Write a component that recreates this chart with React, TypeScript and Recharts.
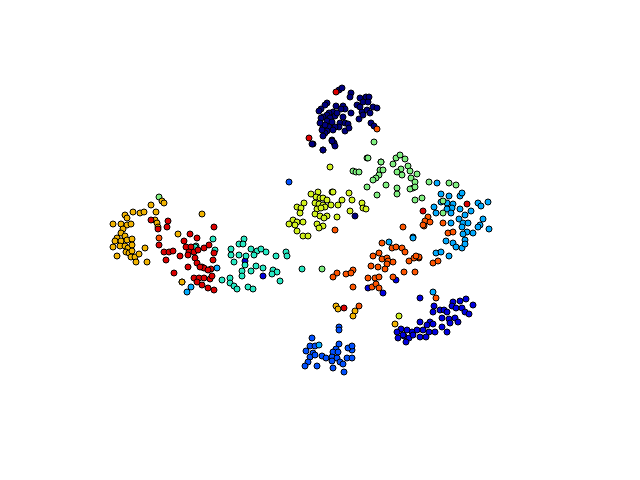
import { ScatterChart, Scatter, XAxis, YAxis } from 'recharts'

// embedding coordinates, one list per class
const navy: [number, number][] = [
  [339, 90], [342, 88], [351, 93], [350, 97], [360, 98], [366, 97], [369, 97], [363, 102], [368, 102],
  [327, 103], [325, 105], [321, 109], [319, 111], [336, 106], [343, 106], [345, 109], [341, 109],
  [357, 105], [360, 107], [362, 112], [367, 110], [373, 107], [377, 108], [333, 112], [329, 113],
  [327, 115], [323, 117], [321, 118], [335, 116], [337, 113], [330, 118], [327, 121], [332, 122],
  [343, 117], [351, 113], [359, 119], [363, 115], [370, 113], [340, 123], [345, 123], [348, 124],
  [339, 127], [335, 127], [329, 127], [323, 128], [327, 131], [333, 130], [325, 133], [322, 130],
  [345, 131], [349, 128], [371, 123], [374, 126], [332, 140], [334, 143], [313, 144], [323, 150],
  [325, 125], [320, 123], [312, 144], [323, 150], [332, 141], [335, 146], [323, 136], [355, 216],
]
const darkBlue: [number, number][] = [
  [420, 298], [434, 306], [453, 302], [460, 301], [466, 299], [473, 305], [452, 306], [456, 308],
  [462, 308], [465, 312], [469, 314], [440, 310], [444, 310], [447, 312], [433, 312], [442, 318],
  [449, 319], [455, 318], [458, 322], [450, 323], [430, 322], [433, 324], [427, 325], [420, 322],
  [442, 327], [447, 332], [435, 332], [429, 332], [423, 330], [417, 330], [412, 332], [407, 330],
  [401, 329], [397, 332], [398, 338], [404, 336], [409, 338], [413, 335], [420, 337], [426, 337],
  [406, 342], [403, 335], [396, 280], [383, 293], [368, 288], [245, 261], [263, 276],
]
const midBlue: [number, number][] = [
  [339, 327], [339, 330], [312, 338], [310, 346], [315, 346], [306, 351], [313, 353], [310, 357],
  [315, 355], [322, 356], [326, 358], [339, 344], [336, 349], [333, 352], [338, 352], [332, 357],
  [337, 358], [332, 361], [340, 362], [347, 358], [352, 358], [352, 350], [348, 348], [352, 346],
  [308, 362], [305, 366], [317, 366], [333, 368], [343, 364], [344, 372], [289, 182],
]
const lightBlue: [number, number][] = [
  [437, 183], [441, 194], [449, 196], [460, 196], [462, 193], [434, 207], [436, 213], [441, 202],
  [447, 203], [453, 204], [452, 208], [447, 209], [451, 213], [460, 209], [471, 211], [478, 203],
  [481, 206], [488, 202], [465, 215], [459, 219], [463, 223], [468, 223], [451, 223], [483, 219],
  [480, 225], [478, 227], [489, 229], [462, 227], [467, 232], [473, 233], [463, 234], [413, 237],
  [446, 241], [453, 243], [456, 247], [462, 248], [465, 240], [465, 244], [436, 253], [441, 252],
  [449, 256], [389, 242], [413, 238], [433, 292], [217, 268], [191, 287], [187, 292], [319, 345],
]
const teal: [number, number][] = [
  [213, 239], [196, 246], [215, 250], [231, 249], [231, 255], [239, 244], [244, 239], [243, 244],
  [251, 249], [257, 251], [261, 249], [266, 252], [239, 255], [246, 256], [254, 255], [234, 262],
  [245, 265], [256, 266], [263, 268], [276, 256], [286, 252], [287, 256], [242, 271], [242, 276],
  [251, 271], [273, 270], [277, 272], [272, 274], [222, 280], [230, 278], [230, 283], [234, 286],
  [237, 289], [248, 287], [253, 289], [280, 281], [195, 247], [302, 269],
]
const lightGreen: [number, number][] = [
  [374, 142], [367, 158], [381, 162], [393, 164], [396, 158], [400, 155], [405, 159], [408, 166],
  [401, 169], [410, 171], [397, 172], [402, 175], [417, 174], [411, 178], [415, 182], [413, 188],
  [410, 189], [415, 187], [353, 171], [356, 172], [359, 172], [380, 170], [383, 170], [379, 175],
  [376, 178], [373, 180], [367, 187], [386, 185], [397, 188], [397, 194], [377, 195], [415, 200],
  [422, 198], [429, 182], [449, 183], [456, 185], [443, 201], [443, 213], [368, 158], [381, 162],
  [159, 197], [322, 269],
]
const lime: [number, number][] = [
  [330, 167], [332, 192], [333, 192], [311, 194], [318, 192], [316, 197], [320, 198], [323, 198],
  [327, 200], [342, 200], [349, 193], [352, 200], [304, 203], [315, 203], [319, 204], [323, 205],
  [325, 207], [331, 205], [338, 205], [362, 203], [297, 207], [301, 208], [317, 209], [321, 208],
  [363, 208], [366, 209], [300, 213], [315, 214], [320, 216], [327, 216], [324, 218], [337, 217],
  [350, 211], [293, 220], [289, 224], [297, 222], [303, 222], [295, 225], [317, 224], [323, 226],
  [319, 228], [297, 231], [303, 236], [308, 236], [399, 316],
]
const gold: [number, number][] = [
  [151, 205], [162, 201], [164, 203], [133, 212], [140, 213], [144, 212], [125, 215], [127, 218],
  [156, 212], [113, 224], [121, 224], [127, 225], [131, 224], [123, 229], [155, 220], [157, 223],
  [158, 227], [121, 233], [125, 236], [117, 238], [115, 241], [121, 241], [127, 240], [132, 239],
  [113, 247], [120, 246], [125, 246], [128, 248], [132, 245], [126, 252], [129, 253], [132, 251],
  [117, 256], [131, 257], [135, 257], [139, 254], [145, 248], [136, 262], [147, 262], [202, 214],
  [178, 234], [182, 282], [182, 282], [336, 306], [338, 309], [355, 311], [353, 316], [395, 324],
]
const orange: [number, number][] = [
  [335, 230], [403, 227], [424, 226], [382, 243], [392, 248], [396, 247], [402, 248], [405, 252],
  [373, 256], [379, 253], [382, 259], [387, 258], [388, 261], [393, 262], [387, 264], [414, 258],
  [419, 258], [409, 261], [433, 263], [438, 261], [371, 266], [378, 267], [385, 269], [353, 270],
  [337, 273], [333, 277], [346, 274], [351, 273], [368, 278], [375, 278], [379, 277], [393, 277],
  [404, 272], [415, 272], [353, 287], [372, 287], [376, 284], [379, 288], [436, 298], [359, 306],
  [428, 217], [425, 221], [430, 222], [423, 225], [443, 223], [448, 233], [453, 232], [419, 257],
  [416, 256], [377, 129], [159, 238],
]
const red: [number, number][] = [
  [151, 220], [158, 229], [168, 221], [167, 227], [159, 245], [214, 227], [190, 234], [197, 238],
  [184, 241], [186, 247], [191, 247], [189, 252], [188, 255], [194, 252], [198, 250], [204, 248],
  [209, 245], [214, 253], [195, 258], [164, 252], [169, 252], [173, 251], [180, 256], [166, 260],
  [213, 260], [197, 263], [202, 267], [204, 268], [188, 267], [211, 269], [174, 273], [194, 278],
  [199, 278], [204, 278], [210, 279], [197, 282], [202, 285], [208, 288], [214, 290], [212, 276],
  [200, 267], [208, 270], [336, 92], [309, 138], [467, 204], [423, 211], [344, 308],
]

const SERIES = [
  { name: 'navy', points: navy, color: '#000080' },
  { name: 'darkBlue', points: darkBlue, color: '#0000e0' },
  { name: 'midBlue', points: midBlue, color: '#0050ff' },
  { name: 'lightBlue', points: lightBlue, color: '#00aaff' },
  { name: 'teal', points: teal, color: '#26eac4' },
  { name: 'lightGreen', points: lightGreen, color: '#80f080' },
  { name: 'lime', points: lime, color: '#d2f21e' },
  { name: 'gold', points: gold, color: '#f2b400' },
  { name: 'orange', points: orange, color: '#ff5500' },
  { name: 'red', points: red, color: '#dd0000' },
]

const Dot = (props: any) => (
  <circle cx={props.cx} cy={props.cy} r={3} fill={props.fill} stroke="#000" strokeWidth={1} />
)

export default function App() {
  return (
    <div style={{ position: 'absolute', left: 0, top: 0, width: 640, height: 480, background: '#fff' }}>
      <ScatterChart width={640} height={480} margin={{ top: 0, right: 0, bottom: 0, left: 0 }}>
        <XAxis type="number" dataKey="x" domain={[0, 640]} hide />
        <YAxis type="number" dataKey="y" domain={[0, 480]} reversed hide />
        {SERIES.map((s) => (
          <Scatter
            key={s.name}
            name={s.name}
            data={s.points.map(([x, y]) => ({ x, y }))}
            fill={s.color}
            shape={<Dot />}
            isAnimationActive={false}
          />
        ))}
      </ScatterChart>
    </div>
  )
}
